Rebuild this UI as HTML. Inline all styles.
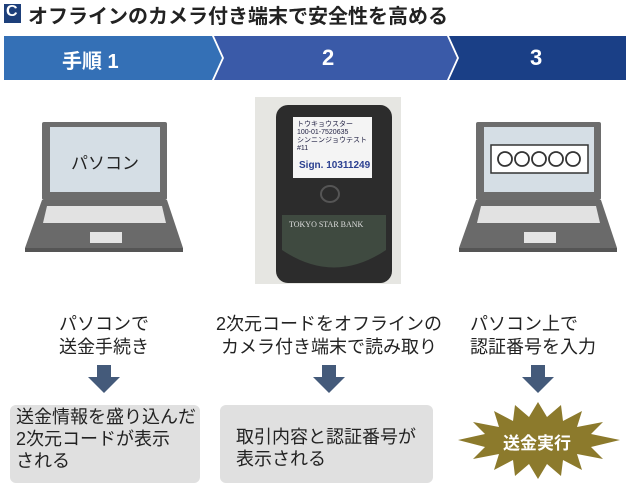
<!DOCTYPE html>
<html><head><meta charset="utf-8"><style>
body{margin:0;background:#fff;}
#c{position:relative;width:630px;height:493px;overflow:hidden;font-family:"Liberation Sans","Noto Sans CJK JP",sans-serif;color:#222;}
.t{position:absolute;white-space:nowrap;}
</style></head><body><div id="c">
<svg width="630" height="493" style="position:absolute;left:0;top:0">
<rect x="4" y="4" width="17" height="19" fill="#1d3f7a"/>
<polygon points="4,36 212,36 222,58 212,80 4,80" fill="#3470b6"/>
<polygon points="214,36 447,36 457,58 447,80 214,80 224,58" fill="#3a5aa8"/>
<polygon points="449,36 626,36 626,80 449,80 459,58" fill="#1a3f86"/>
<rect x="42" y="122" width="125" height="78" rx="2" fill="#6d6d6d"/>
<rect x="50" y="127" width="110" height="65" fill="#d5dee5"/>
<polygon points="42,200 167,200 183,248 25,248" fill="#6a6a6a"/>
<rect x="25" y="248" width="158" height="4" fill="#555"/>
<polygon points="47,206 162,206 166,223 43,223" fill="#e2e2e2"/>
<rect x="90" y="232" width="32" height="11" fill="#e4e4e4"/>
<rect x="476" y="122" width="125" height="78" rx="2" fill="#6d6d6d"/>
<rect x="484" y="127" width="110" height="65" fill="#d5dee5"/>
<polygon points="476,200 601,200 617,248 459,248" fill="#6a6a6a"/>
<rect x="459" y="248" width="158" height="4" fill="#555"/>
<polygon points="481,206 596,206 600,223 477,223" fill="#e2e2e2"/>
<rect x="524" y="232" width="32" height="11" fill="#e4e4e4"/>
<rect x="491" y="145" width="97" height="28" fill="#fff" stroke="#333" stroke-width="1.5"/>
<g fill="none" stroke="#333" stroke-width="1.8">
<circle cx="505" cy="159" r="7"/><circle cx="522" cy="159" r="7"/><circle cx="539" cy="159" r="7"/><circle cx="556" cy="159" r="7"/><circle cx="573" cy="159" r="7"/></g>
<rect x="255" y="97" width="146" height="187" fill="#e6e6e2"/>
<rect x="276" y="105" width="116" height="178" rx="12" fill="#2c2c2c"/>
<path d="M282 215 L386 215 L386 250 Q334 285 282 250 Z" fill="#3f4a40"/>
<rect x="293" y="117" width="79" height="61" fill="#f4f4f4"/>
<text x="297" y="126" font-size="7" fill="#224">トウキョウスター</text>
<text x="297" y="134" font-size="7" fill="#224">100-01-7520635</text>
<text x="297" y="142" font-size="7" fill="#224">シンニンジョウテスト</text>
<text x="297" y="150" font-size="7" fill="#224">#11</text>
<text x="299" y="168" font-size="10" font-weight="bold" fill="#2a3f90">Sign. 10311249</text>
<ellipse cx="330" cy="194" rx="9" ry="8" fill="none" stroke="#555" stroke-width="2"/>
<text x="289" y="227" font-size="8" fill="#ddd" font-family="Liberation Serif">TOKYO STAR BANK</text>
<g fill="#445a7a">
<rect x="97" y="365" width="14" height="12"/><polygon points="88,377 120,377 104,393"/>
<rect x="322" y="365" width="14" height="12"/><polygon points="313,377 345,377 329,393"/>
<rect x="531" y="365" width="14" height="12"/><polygon points="522,377 554,377 538,393"/>
</g>
<rect x="10" y="405" width="190" height="78" rx="6" fill="#e0e0e0"/>
<rect x="220" y="405" width="213" height="78" rx="6" fill="#e0e0e0"/>
<polygon fill="#8c7a2c" points="538,402 547,417 561,405 563,421 582,411 577,427 603,422 591,434 620,440 591,447 603,459 577,454 582,470 563,460 561,476 547,464 538,479 529,464 515,476 513,460 494,470 499,454 473,459 485,447 458,440 485,434 473,422 499,427 494,411 513,421 515,405 529,417"/>
</svg>
<div class="t" style="left:6px;top:3px;font-size:16px;font-weight:bold;color:#fff;">C</div>
<div class="t" style="left:28px;top:0px;font-size:20px;font-weight:bold;color:#222;">オフラインのカメラ付き端末で安全性を高める</div>
<div class="t" style="left:62px;top:45px;font-size:20px;font-weight:bold;color:#fff;">手順 1</div>
<div class="t" style="left:322px;top:45px;font-size:22px;font-weight:bold;color:#fff;">2</div>
<div class="t" style="left:530px;top:45px;font-size:22px;font-weight:bold;color:#fff;">3</div>
<div class="t" style="left:71px;top:149px;font-size:17px;">パソコン</div>
<div class="t" style="left:0;width:208px;top:313px;font-size:18px;line-height:23px;text-align:center;white-space:normal;">パソコンで<br>送金手続き</div>
<div class="t" style="left:210px;width:238px;top:313px;font-size:18px;line-height:23px;text-align:center;white-space:normal;">2次元コードをオフラインの<br>カメラ付き端末で読み取り</div>
<div class="t" style="left:470px;top:313px;font-size:18px;line-height:23px;">パソコン上で<br>認証番号を入力</div>
<div class="t" style="left:16px;top:406px;font-size:18px;line-height:22px;">送金情報を盛り込んだ<br>2次元コードが表示<br>される</div>
<div class="t" style="left:236px;top:426px;font-size:18px;line-height:22px;">取引内容と認証番号が<br>表示される</div>
<div class="t" style="left:503px;top:429px;font-size:17px;font-weight:bold;color:#fff;">送金実行</div>
</div></body></html>
